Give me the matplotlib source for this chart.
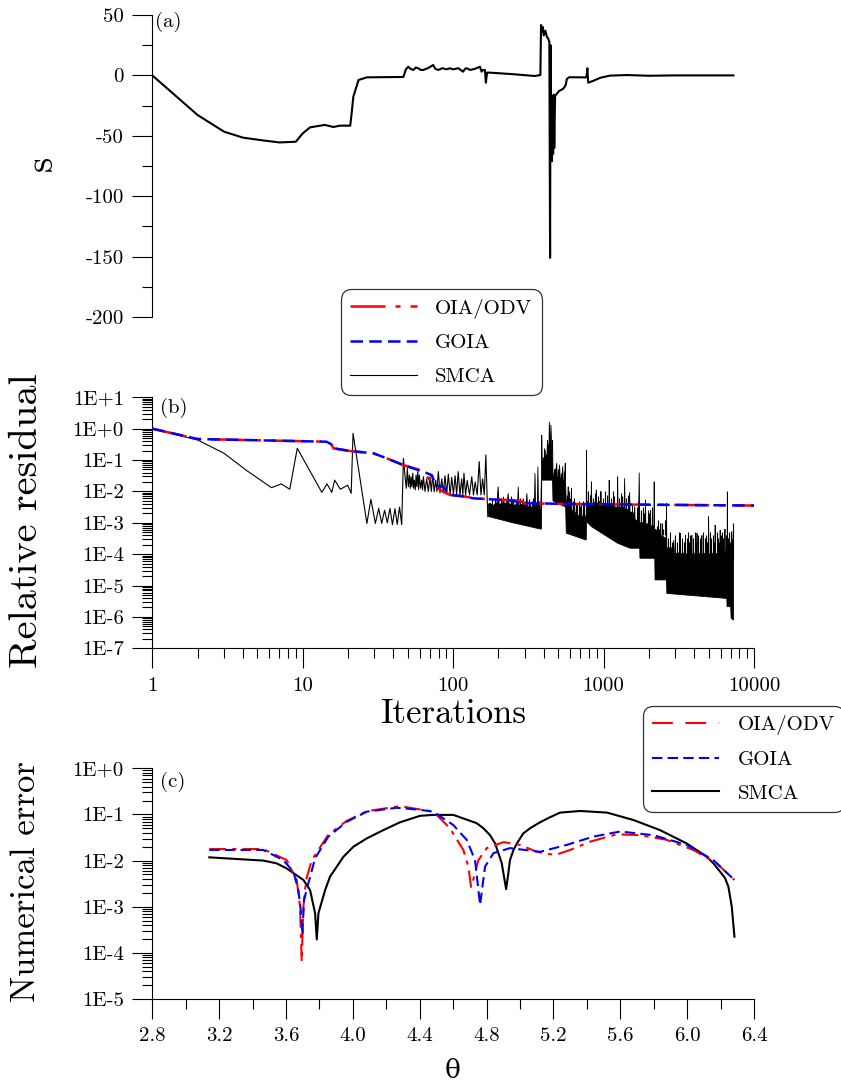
import numpy as np
import matplotlib
matplotlib.use('Agg')
import matplotlib.pyplot as plt
from matplotlib.ticker import FixedLocator, LogLocator, NullFormatter, FuncFormatter
from matplotlib.lines import Line2D

plt.rcParams.update({'font.family': 'cmr10', 'mathtext.fontset': 'cm',
                     'axes.unicode_minus': False, 'axes.formatter.use_mathtext': True})

# ---------------- panel (a): s vs iterations ----------------
a_it = [1, 2, 3, 4, 5.2, 7, 9, 10, 11.2, 14, 16, 17.7, 20.7, 21.2, 21.7, 23.5, 26.7,
        46.7, 48.5, 50.3, 52, 54.3, 56.5, 58.6, 61, 63.2, 68, 73.7, 76, 79.6, 85, 90,
        95.3, 100, 108, 116.5, 120, 123, 130, 140, 150.7, 154.6, 158, 162.6, 165, 168,
        175, 250, 349, 380, 384, 390, 395, 400, 410, 420, 430, 436, 441, 444, 447, 451,
        454, 458, 462, 466, 470, 476, 490, 505, 540, 560, 570, 590, 700, 770, 780, 790,
        850, 950, 1100, 1430, 2000, 3000, 5000, 7300]
a_s = [0, -32.8, -46.6, -51.5, -53.5, -55.5, -54.9, -48, -43, -41, -42.7, -41.6, -41.6,
       -30, -17.6, -3.8, -1.6,
       -1.3, 5, 7.2, 5.5, 4.5, 6.5, 5.9, 4.5, 4.5, 6, 8.6, 5.5, 4.5, 6, 5,
       5.9, 5, 6, 3.1, 5.5, 5.9, 4.5, 5.5, 7.2, 3.1, 4.5, 4.5, -6, 2.3,
       2.3, 1.0, -0.5, 0.3, 41.7, 36, 40, 33, 37, 32, 30, 28, -151, 25, -40, -17,
       -71, -20, -65, -16, -60, -17, -15, -13, -11, -8, -3, -1.5, -1.6, -1.6, 5.9, -6,
       -4.6, -2.0, -0.2, 0.3, -0.3, 0, 0, 0]

# ---------------- panel (b): relative residual (log10 values) ----------------
oia_it = [1, 2, 14.4, 15.5, 16, 20.5, 29.5, 36, 46.6, 58.6, 64, 68.4, 74.5, 82, 86, 95,
          123, 136, 176, 251, 271, 290, 300, 571, 1585, 10000]
oia_log = [0, -0.33, -0.415, -0.5, -0.625, -0.71, -0.785, -0.94, -1.16, -1.3, -1.4, -1.58,
           -1.8, -1.95, -2.01, -2.11, -2.17, -2.22, -2.25, -2.28, -2.3, -2.33, -2.38, -2.40,
           -2.42, -2.45]
goia_it = [1, 2, 14.4, 15.5, 16, 20.5, 29.5, 36, 46.6, 58.6, 63.4, 72, 76.5, 86, 90.5, 95,
           123, 136, 176, 251, 271, 293, 571, 1585, 10000]
goia_log = [0, -0.33, -0.415, -0.5, -0.625, -0.71, -0.785, -0.94, -1.16, -1.32, -1.37, -1.48,
            -1.8, -1.85, -2.0, -2.11, -2.17, -2.22, -2.25, -2.3, -2.35, -2.37, -2.40, -2.42,
            -2.45]

# SMCA: sparse zig-zag part
smca_it = [1, 2, 3, 4.2, 6.2, 7.2, 8.2, 9.2, 13.4, 14.5, 15.6, 16.3, 17.8, 19.9, 21, 21.6,
           26.7, 28.4, 30.4, 32, 33.5, 35, 36.5, 38, 39.5, 41, 42.5, 44, 45.5,
           46.7, 47.9, 48.8, 49.6, 50.4, 51.2, 51.9, 52.5, 53.2, 53.9, 54.5, 55.2, 56,
           56.7, 57.4, 58.2, 58.9, 59.6, 60.7, 61.8, 62.6, 63.4, 65, 66.7, 68.4, 70.2,
           71.6, 73.1, 74.8, 76.5, 78, 79.7, 81.8, 84, 86, 88.3, 90.5, 92.9, 95.4, 97.9,
           100.4, 103, 105.5, 108, 111, 114, 116, 118, 121, 124, 128.5, 133, 136.5, 140,
           144.5, 149, 153, 157, 161, 165, 168, 170]
smca_log = [0, -0.36, -0.785, -1.32, -1.88, -1.76, -1.93, -0.625, -2.03, -1.76, -2.03, -1.64,
            -1.93, -1.8, -2.06, -0.147, -3.02, -2.25, -3.02, -2.54, -3.02, -2.6, -3.0, -2.54,
            -3.06, -2.55, -3.05, -2.5, -3.06,
            -0.945, -1.53, -1.9, -1.26, -1.85, -1.48, -1.9, -1.53, -1.85, -1.42, -1.9, -1.64,
            -1.95, -1.48, -1.85, -1.37, -1.95, -1.48, -1.9, -1.64, -1.95, -1.53, -2.0, -1.6,
            -2.0, -1.53, -2.0, -1.48, -2.01, -1.64, -2.0, -1.37, -2.05, -1.6, -2.05, -1.5,
            -2.08, -1.45, -2.1, -1.55, -2.1, -1.5, -2.1, -1.37, -2.11, -1.6, -2.11, -1.42,
            -2.11, -1.65, -2.11, -1.53, -2.11, -1.7, -2.11, -1.05, -2.11, -1.6, -2.11, -0.84,
            -2.11, -2.81]

# SMCA: dense part, upper edge and floor of the black band
dense_top_it = [172, 176, 185, 196, 199, 202, 213, 216, 219, 229, 232, 235, 248, 251, 254,
                268, 271, 274, 289, 292, 295, 306, 309, 312, 322, 325, 328, 347, 350, 353,
                363, 366, 369, 382, 386, 388, 391, 405, 409, 412, 420, 424, 428, 433, 436,
                440, 444, 447, 451, 455, 458, 461, 470, 480, 488, 493, 505, 510, 515, 530,
                535, 540, 552, 556, 560, 565, 579, 582, 586, 608, 612, 616, 656, 660, 664,
                700, 713, 718, 760, 767, 770, 774, 800, 826, 830, 835, 870, 890, 895, 900,
                955, 960, 966, 1040, 1084, 1090, 1097, 1200, 1233, 1240, 1248, 1370, 1380,
                1390, 1480, 1490, 1500, 1600, 1610, 1620, 1710, 1725, 1740, 1890, 1900,
                1910, 2040, 2050, 2060, 2160, 2170, 2185, 2390, 2400, 2410, 2610, 2620,
                2635, 2900, 2930, 2960, 3220, 3240, 3260, 3480, 3500, 3520, 3840, 3860,
                3880, 4160, 4180, 4200, 4480, 4500, 4520, 4960, 4990, 5020, 5490, 5520,
                5550, 5930, 5960, 5990, 6380, 6410, 6440, 6630, 6650, 6670, 7080, 7110,
                7150, 7300]
dense_top_log = [-2.4, -2.38, -2.45, -2.35, -1.85, -2.4, -2.4, -2.17, -2.4, -2.35, -2.06,
                 -2.4, -2.4, -2.27, -2.45, -2.4, -1.85, -2.45, -2.4, -2.22, -2.45, -2.4,
                 -2.06, -2.45, -2.5, -2.38, -2.5, -2.5, -1.42, -2.5, -2.5, -1.21, -2.55,
                 -2.6, -1.6, -0.2, -1.0, -1.1, -0.68, -1.0, -0.9, -0.36, -0.85, -0.7, 0.22,
                 -0.3, -0.5, 0.12, -0.6, -0.7, -0.36, -1.4, -1.6, -1.5, -1.1, -1.6, -1.5,
                 -1.15, -1.6, -1.5, -1.2, -1.7, -1.6, -1.1, -1.9, -2.3, -2.3, -1.85, -2.5,
                 -2.4, -1.9, -2.6, -2.7, -2.4, -2.75, -2.8, -2.4, -2.8, -2.8, -2.75, -0.68,
                 -2.3, -2.4, -2.4, -1.69, -2.4, -2.35, -2.4, -1.95, -2.4, -2.3, -2.0, -2.4,
                 -2.4, -2.45, -1.64, -2.4, -2.5, -2.5, -1.53, -2.5, -2.5, -1.58, -2.55,
                 -2.6, -2.02, -2.65, -2.7, -2.49, -2.9, -2.95, -1.4, -3.0, -3.0, -2.27,
                 -3.05, -3.0, -2.59, -3.1, -3.1, -1.69, -3.2, -3.3, -3.02, -3.4, -3.5,
                 -2.38, -3.8, -3.8, -3.55, -4.0, -3.95, -3.33, -4.0, -3.95, -3.4, -4.0,
                 -3.95, -3.4, -4.0, -3.95, -3.33, -4.0, -3.95, -3.4, -4.0, -3.95, -2.8,
                 -4.0, -3.95, -3.07, -4.0, -3.95, -3.23, -4.0, -3.95, -3.2, -3.9, -3.9,
                 -2.01, -3.8, -3.8, -3.28, -3.6, -3.5]
dense_floor_it = [172, 250, 382, 386, 388, 458, 461, 560, 565, 767, 770, 830, 1240, 1500,
                  1740, 1745, 2190, 2200, 2620, 2635, 6600, 6620, 7000, 7050, 7300]
dense_floor_log = [-2.8, -3.0, -3.2, -3.2, -1.64, -1.64, -2.3, -2.5, -3.33, -3.55, -2.96,
                   -3.12, -3.65, -3.81, -3.81, -4.13, -4.13, -4.82, -4.82, -5.25, -5.41,
                   -5.67, -5.67, -6.04, -6.1]

# SMCA: further thin spikes sticking out of the band (iteration, top, foot)
spike_it = [180, 190, 207, 224, 241, 260, 280, 300, 317, 335, 342, 358, 375,
            395, 400, 415, 430, 466, 475, 498, 520, 545,
            570, 590, 600, 625, 640, 670, 685, 700, 725, 745,
            785, 815, 850, 880, 920, 940, 990, 1020, 1060, 1120, 1150, 1180, 1270, 1300,
            1330, 1420, 1450,
            1550, 1580, 1660, 1690, 1780, 1820, 1850, 1960, 2000, 2100, 2250, 2300, 2350,
            2450, 2500, 2550,
            2700, 2780, 2850, 3000, 3100, 3170, 3320, 3400, 3580, 3650, 3720, 3780, 3950,
            4050, 4100, 4270, 4350, 4420, 4600, 4700, 4800, 4880, 5100, 5200, 5300, 5400,
            5650, 5750, 5850, 6050, 6150, 6250, 6500, 6750, 6850, 6950, 7000, 7200]
spike_top = [-2.2, -2.25, -2.2, -2.25, -2.15, -2.3, -2.2, -2.3, -2.25, -2.3, -2.2, -2.35, -2.3,
             -0.9, -0.6, -0.8, -0.5, -1.3, -1.25, -1.3, -1.4, -1.35,
             -2.1, -2.0, -2.2, -2.3, -2.2, -2.4, -2.3, -2.45, -2.3, -2.4,
             -2.0, -2.1, -2.2, -2.05, -2.15, -2.0, -2.2, -2.0, -2.1, -2.2, -2.0, -2.15, -2.2,
             -2.05, -2.15, -2.2, -2.1,
             -2.4, -2.7, -2.5, -2.3, -2.6, -2.5, -2.7, -2.6, -2.7, -2.5, -3.1, -2.9, -3.2,
             -3.0, -3.2, -2.9,
             -3.5, -3.3, -3.6, -3.4, -3.6, -3.3, -3.5, -3.6, -3.5, -3.3, -3.6, -3.4, -3.5,
             -3.3, -3.6, -3.4, -3.5, -3.6, -3.3, -3.5, -3.4, -3.6, -3.3, -3.5, -3.4, -3.6,
             -3.3, -3.5, -3.6, -3.4, -3.3, -3.5, -3.4, -3.5, -3.3, -3.6, -3.3, -3.0]
spike_foot = [-2.6] * 13 + [-1.5] * 4 + [-2.0] * 5 + [-2.9] * 10 + [-2.7] * 17 + \
             [-3.4] * 16 + [-4.2] * 38

# ---------------- panel (c): numerical error vs theta (log10 values) ----------------
smca_c_th = [3.141, 3.464, 3.544, 3.604, 3.704, 3.744, 3.774, 3.784, 3.794, 3.834, 3.863,
             3.904, 3.943, 4.003, 4.083, 4.182, 4.282, 4.402, 4.482, 4.601, 4.741, 4.781,
             4.821, 4.851, 4.871, 4.891, 4.901, 4.917, 4.93, 4.94, 4.961, 4.981, 5.02, 5.06,
             5.12, 5.18, 5.24, 5.36, 5.52, 5.678, 5.838, 5.998, 6.118, 6.157, 6.197, 6.227,
             6.247, 6.267, 6.283]
smca_c_log = [-1.93, -2.0, -2.06, -2.17, -2.42, -2.64, -3.14, -3.71, -3.14, -2.64, -2.35,
              -2.13, -1.92, -1.70, -1.52, -1.34, -1.17, -1.03, -1.01, -1.01, -1.19, -1.30,
              -1.45, -1.63, -1.84, -2.06, -2.28, -2.62, -2.28, -1.99, -1.77, -1.63, -1.41,
              -1.30, -1.17, -1.06, -0.96, -0.925, -0.96, -1.12, -1.34, -1.63, -1.92, -2.06,
              -2.24, -2.38, -2.57, -3.0, -3.65]
goia_c_th = [3.141, 3.464, 3.584, 3.644, 3.674, 3.69, 3.698, 3.708, 3.734, 3.774, 3.853,
             3.963, 4.083, 4.263, 4.402, 4.482, 4.601, 4.681, 4.731, 4.761, 4.791, 4.841,
             4.94, 5.12, 5.28, 5.439, 5.599, 5.798, 5.998, 6.157, 6.283]
goia_c_log = [-1.77, -1.77, -1.99, -2.24, -2.64, -3.14, -3.6, -2.85, -2.49, -1.95, -1.48,
              -1.16, -0.94, -0.855, -0.90, -0.94, -1.23, -1.55, -1.99, -2.96, -2.13, -1.84,
              -1.73, -1.81, -1.66, -1.48, -1.37, -1.45, -1.66, -1.99, -2.42]
oia_c_th = [3.141, 3.464, 3.604, 3.664, 3.684, 3.694, 3.704, 3.72, 3.754, 3.853, 3.963,
            4.083, 4.282, 4.482, 4.581, 4.661, 4.691, 4.707, 4.72, 4.751, 4.801, 4.901, 5.0,
            5.10, 5.21, 5.30, 5.419, 5.579, 5.718, 5.878, 6.037, 6.177, 6.283]
oia_c_log = [-1.75, -1.75, -1.99, -2.42, -3.0, -4.19, -3.0, -2.42, -1.99, -1.44, -1.14,
             -0.93, -0.82, -0.94, -1.30, -1.77, -2.13, -2.57, -2.42, -1.99, -1.73, -1.60,
             -1.66, -1.81, -1.88, -1.77, -1.59, -1.43, -1.45, -1.55, -1.77, -2.06, -2.42]

a_yticks = [50, 0, -50, -100, -150, -200]
c_xticks = [2.8, 3.2, 3.6, 4.0, 4.4, 4.8, 5.2, 5.6, 6.0, 6.4]
labels = ['OIA/ODV', 'GOIA', 'SMCA']

W, H = 841, 1086
fig = plt.figure(figsize=(W / 100, H / 100), dpi=100)


def box(l, t, r, b):
    return [l / W, 1 - b / H, (r - l) / W, (b - t) / H]


def p10(v):
    return 10.0 ** np.asarray(v, dtype=float)


ax_a = fig.add_axes(box(152.3, 15, 754, 317))
ax_b = fig.add_axes(box(152.3, 397.3, 754, 648.3))
ax_c = fig.add_axes(box(152.3, 768.3, 754, 999))

tick_fs = 15


def style(ax, bottom=True):
    for s in ['top', 'right']:
        ax.spines[s].set_visible(False)
    ax.spines['bottom'].set_visible(bottom)
    for s in ['left', 'bottom']:
        ax.spines[s].set_linewidth(0.8)
    ax.tick_params(which='major', direction='out', length=14.4, width=0.8,
                   labelsize=tick_fs, pad=6)
    ax.tick_params(which='minor', direction='out', length=7.2, width=0.8)


# (a)
ax_a.plot(a_it, a_s, color='k', lw=1.5)
ax_a.set_xscale('log')
ax_a.set_xlim(1, 10000)
ax_a.set_ylim(-200, 50)
style(ax_a, bottom=False)
ax_a.xaxis.set_visible(False)
ax_a.yaxis.set_major_locator(FixedLocator(a_yticks))
ax_a.yaxis.set_minor_locator(FixedLocator(np.arange(-175, 50, 50)))
ax_a.yaxis.set_major_formatter(FuncFormatter(lambda v, p: '%d' % v))

# (b)
ax_b.plot(smca_it, p10(smca_log), color='k', lw=0.8, zorder=2)
poly_x = dense_top_it + dense_floor_it[::-1]
poly_y = list(p10(dense_top_log)) + list(p10(dense_floor_log))[::-1]
ax_b.fill(poly_x, poly_y, color='k', lw=0.6, zorder=2)
ax_b.vlines(spike_it, p10(spike_foot), p10(spike_top), color='k', lw=0.8, zorder=2)
ax_b.plot(oia_it, p10(oia_log), color='red', lw=1.8, dashes=(14, 4, 2, 4), zorder=3)
ax_b.plot(goia_it, p10(goia_log), color='blue', lw=1.8, dashes=(5, 2.5), zorder=4)
ax_b.set_xscale('log')
ax_b.set_yscale('log')
ax_b.set_xlim(1, 10000)
ax_b.set_ylim(1e-7, 10)
style(ax_b)

log_fmt = FuncFormatter(lambda v, p: '1E%+d' % int(round(np.log10(v))))
for ax, lo, hi in [(ax_b, -7, 1), (ax_c, -5, 0)]:
    ax.set_yscale('log')
    ax.yaxis.set_major_locator(FixedLocator(10.0 ** np.arange(lo, hi + 1)))
    ax.yaxis.set_minor_locator(LogLocator(base=10, subs=np.arange(2, 10), numticks=100))
    ax.yaxis.set_minor_formatter(NullFormatter())
    ax.yaxis.set_major_formatter(log_fmt)
ax_b.xaxis.set_major_locator(FixedLocator([1, 10, 100, 1000, 10000]))
ax_b.xaxis.set_minor_locator(LogLocator(base=10, subs=np.arange(2, 10), numticks=100))
ax_b.xaxis.set_minor_formatter(NullFormatter())
ax_b.xaxis.set_major_formatter(FuncFormatter(lambda v, p: '%d' % v))

# (c)
ax_c.plot(smca_c_th, p10(smca_c_log), color='k', lw=1.5)
ax_c.plot(oia_c_th, p10(oia_c_log), color='red', lw=1.5, dashes=(8, 3, 2, 3))
ax_c.plot(goia_c_th, p10(goia_c_log), color='blue', lw=1.5, dashes=(5, 2.5))
ax_c.set_xlim(2.8, 6.4)
ax_c.set_ylim(1e-5, 1)
style(ax_c)
ax_c.xaxis.set_major_locator(FixedLocator(c_xticks))
ax_c.xaxis.set_minor_locator(FixedLocator(np.arange(3.0, 6.3, 0.4)))
ax_c.xaxis.set_major_formatter(FuncFormatter(lambda v, p: '%.1f' % v))

# labels
fig.text(42 / W, 1 - 163 / H, 's', fontsize=28, rotation=90, ha='center', va='center')
fig.text(27 / W, 1 - 521 / H, 'Relative residual', fontsize=29, rotation=90,
         ha='center', va='center')
fig.text(453 / W, 1 - 714 / H, 'Iterations', fontsize=25, ha='center', va='center')
fig.text(26 / W, 1 - 882 / H, 'Numerical error', fontsize=25, rotation=90,
         ha='center', va='center')
fig.text(453 / W, 1 - 1070 / H, 'θ', fontsize=19, ha='center', va='center',
         family=['DejaVu Serif'])
for lab, x, y in [('(a)', 155, 12), ('(b)', 160, 398), ('(c)', 160.5, 772)]:
    fig.text(x / W, 1 - y / H, lab, fontsize=15, ha='left', va='top')

# legends
hb = [Line2D([], [], color='red', lw=1.8, dashes=(14, 4, 2, 4)),
      Line2D([], [], color='blue', lw=1.8, dashes=(5, 2.5)),
      Line2D([], [], color='k', lw=0.8)]
hc = [Line2D([], [], color='red', lw=1.5, dashes=(10, 6)),
      Line2D([], [], color='blue', lw=1.5, dashes=(5, 2.5)),
      Line2D([], [], color='k', lw=1.5)]
for handles, (x, y) in [(hb, (340.5, 289.3)), (hc, (643, 706))]:
    leg = fig.legend(handles, labels, loc='upper left', bbox_to_anchor=(x / W, 1 - y / H),
                     bbox_transform=fig.transFigure, fontsize=15, frameon=True,
                     fancybox=True, edgecolor='#333333', framealpha=1, handlelength=3.2,
                     labelspacing=0.72, handletextpad=0.9, borderpad=0.45, borderaxespad=0)
    leg.get_frame().set_linewidth(0.9)
    leg.get_frame().set_boxstyle('round,pad=0,rounding_size=0.5')

fig.savefig('out.png', dpi=100)
